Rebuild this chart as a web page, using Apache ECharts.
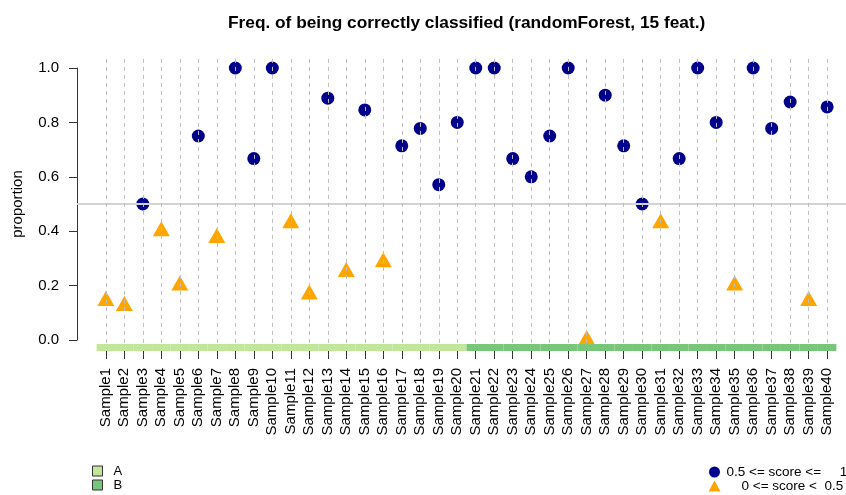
<!doctype html>
<html>
 <head>
  <meta charset="UTF-8">
  <script src="https://cdn.jsdelivr.net/npm/echarts@6/dist/echarts.min.js"></script>
  <title>Freq. of being correctly classified</title>
  <style>body{margin:0;background:#fff}</style>
 </head>
 <body>
  <div id="chart" style="height: 495px; width: 846px; margin: 0"></div>
 <script type="text/javascript">
    // sample names, class of each sample and proportion correctly classified
    var samples = [];
    for (var k = 1; k <= 40; k++) samples.push('Sample' + k);
    var groups = ['A','A','A','A','A','A','A','A','A','A','A','A','A','A','A','A','A','A','A','A',
                  'B','B','B','B','B','B','B','B','B','B','B','B','B','B','B','B','B','B','B','B'];
    var proportion = [0.143, 0.125, 0.5, 0.4, 0.2, 0.75, 0.375, 1.0, 0.667, 1.0,
                      0.429, 0.167, 0.889, 0.25, 0.846, 0.286, 0.714, 0.778, 0.571, 0.8,
                      1.0, 1.0, 0.667, 0.6, 0.75, 1.0, 0.0, 0.9, 0.714, 0.5,
                      0.429, 0.667, 1.0, 0.8, 0.2, 1.0, 0.778, 0.875, 0.143, 0.857];
    var yTicks = [0, 0.2, 0.4, 0.6, 0.8, 1.0];
    var threshold = 0.5;
    var groupColors = {A: '#C2E699', B: '#78C679'};
    var highName = '0.5 <= score <=     1';
    var lowName = '    0 <= score <  0.5';

    var high = [], low = [];
    proportion.forEach(function (v, i) {
        if (v >= threshold) high.push([i + 1, v]); else low.push([i + 1, v]);
    });

    var xmin = -0.56, xmax = 41.56;
    var plotW = 779;
    var unit = plotW / (xmax - xmin);

    var myChart = echarts.init(document.getElementById('chart'));
    myChart.setOption({
        animation: false,
        textStyle: {fontFamily: 'Liberation Sans, Arial, sans-serif'},
        title: {
            text: 'Freq. of being correctly classified (randomForest, 15 feat.)',
            left: 223, top: 10,
            textStyle: {fontSize: 17.3, fontWeight: 'bold', color: '#000'}
        },
        legend: [{
            data: ['A', 'B'],
            orient: 'vertical', left: 87, top: 459.5, height: 40,
            icon: 'rect', itemWidth: 10, itemHeight: 10, itemGap: 1,
            itemStyle: {borderColor: '#333', borderWidth: 1},
            textStyle: {fontSize: 13, color: '#000', padding: [0, 0, 0, 6]}
        }, {
            data: [{name: highName, icon: 'circle'}, {name: lowName, icon: 'triangle'}],
            orient: 'vertical', left: 703.5, top: 460, height: 40,
            itemWidth: 12, itemHeight: 11, itemGap: 0,
            textStyle: {fontSize: 13.5, color: '#000', padding: [0, 0, 0, 1]}
        }],
        grid: [
            {left: 77, top: 68, height: 272, width: plotW, outerBoundsMode: 'none'},
            {left: 77, top: 68 - 0.04 * 272, height: 1.08 * 272, width: plotW, outerBoundsMode: 'none'},
            {left: 77 + (1 - 0.5 - xmin) * unit, top: 344, height: 7, width: 40 * unit, outerBoundsMode: 'none'}
        ],
        xAxis: [
            {gridIndex: 0, type: 'value', min: xmin, max: xmax, show: false},
            {gridIndex: 1, type: 'value', min: xmin, max: xmax, show: false},
            {gridIndex: 2, type: 'category', data: samples,
             axisLine: {show: false},
             axisTick: {show: true, alignWithLabel: true, length: 8, lineStyle: {color: '#333'}},
             axisLabel: {interval: 0, rotate: 90, margin: 17, fontSize: 15, color: '#000'}}
        ],
        yAxis: [
            {gridIndex: 0, type: 'value', min: 0, max: 1, interval: 0.2,
             name: 'proportion', nameLocation: 'middle', nameGap: 52,
             nameTextStyle: {fontSize: 15, color: '#000'},
             axisLine: {show: true, onZero: false, lineStyle: {color: '#333'}},
             axisTick: {show: true, length: 8, lineStyle: {color: '#333'}},
             axisLabel: {margin: 18, fontSize: 15, color: '#000',
                         customValues: yTicks,
                         formatter: function (v) { return v.toFixed(1); }},
             splitLine: {show: false}},
            {gridIndex: 1, type: 'value', min: -0.04, max: 1.04, show: false, splitLine: {show: false}},
            {gridIndex: 2, type: 'value', min: 0, max: 1, show: false, splitLine: {show: false}}
        ],
        series: [{
            type: 'scatter', xAxisIndex: 1, yAxisIndex: 1, data: [], silent: true, z: 1,
            markLine: {
                silent: true, symbol: 'none', label: {show: false},
                lineStyle: {color: '#D3D3D3', width: 2, type: 'solid'},
                data: [{yAxis: threshold}]
            }
        }, {
            name: highName, type: 'scatter', xAxisIndex: 1, yAxisIndex: 1,
            symbol: 'circle', symbolSize: 13, z: 3,
            itemStyle: {color: '#00008B', opacity: 1},
            data: high
        }, {
            name: lowName, type: 'scatter', xAxisIndex: 1, yAxisIndex: 1,
            symbol: 'triangle', symbolSize: [17, 15], symbolOffset: [0, -2.5], z: 3,
            itemStyle: {color: '#FFA500', opacity: 1},
            data: low, clip: false
        }, {
            type: 'scatter', xAxisIndex: 1, yAxisIndex: 1, data: [], silent: true, z: 5,
            markLine: {
                silent: true, symbol: 'none', label: {show: false},
                lineStyle: {color: '#BEBEBE', width: 1, type: [4, 4]},
                data: samples.map(function (s, i) { return {xAxis: i + 1}; })
            }
        }, {
            name: 'A', type: 'bar', xAxisIndex: 2, yAxisIndex: 2, barWidth: '100%', barGap: '-100%',
            itemStyle: {color: groupColors.A}, z: 6,
            data: groups.map(function (g) { return g === 'A' ? 1 : '-'; })
        }, {
            name: 'B', type: 'bar', xAxisIndex: 2, yAxisIndex: 2, barWidth: '100%', barGap: '-100%',
            itemStyle: {color: groupColors.B}, z: 6,
            data: groups.map(function (g) { return g === 'B' ? 1 : '-'; })
        }]
    });
 </script>
 </body>
</html>
